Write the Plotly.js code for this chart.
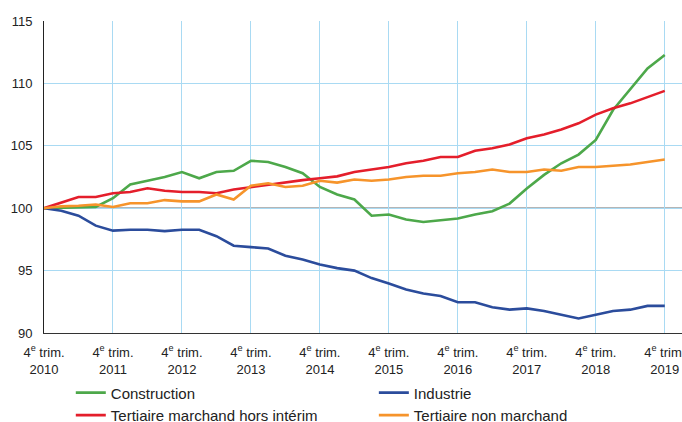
<!DOCTYPE html>
<html>
<head>
<meta charset="utf-8">
<script src="https://cdn.plot.ly/plotly-3.0.1.min.js"></script>
<style>html,body{margin:0;padding:0;background:#fff;}#chart{width:682px;height:422px;}</style>
</head>
<body>
<div id="chart"></div>
<script>
// Quarterly index, base 100 at 4th quarter 2010 (Q4 2010 .. Q4 2019)
var quarters = [];
for (var i = 0; i <= 36; i++) quarters.push(i);

var tickVals = [0, 4, 8, 12, 16, 20, 24, 28, 32, 36];
var tickYears = ["2010", "2011", "2012", "2013", "2014", "2015", "2016", "2017", "2018", "2019"];

var construction = [100, 100.05, 100.05, 100.1, 100.8, 101.9, 102.2, 102.5, 102.9, 102.4,
  102.9, 103.0, 103.8, 103.7, 103.3, 102.8, 101.7, 101.1, 100.7, 99.4,
  99.5, 99.1, 98.9, 99.05, 99.17, 99.5, 99.76, 100.37, 101.58, 102.67,
  103.6, 104.3, 105.47, 107.87, 109.5, 111.2, 112.27];

var industrie = [100, 99.8, 99.4, 98.6, 98.2, 98.27, 98.27, 98.16, 98.27, 98.27,
  97.76, 96.99, 96.88, 96.77, 96.19, 95.89, 95.49, 95.2, 95.0, 94.4,
  93.96, 93.48, 93.16, 92.97, 92.46, 92.46, 92.06, 91.87, 91.97, 91.76,
  91.46, 91.17, 91.46, 91.76, 91.87, 92.17, 92.17];

var tertMarchand = [100, 100.45, 100.9, 100.9, 101.2, 101.3, 101.6, 101.4, 101.3, 101.3,
  101.2, 101.5, 101.7, 101.85, 102.05, 102.25, 102.4, 102.55, 102.9, 103.1,
  103.3, 103.6, 103.8, 104.1, 104.1, 104.6, 104.8, 105.1, 105.6, 105.9,
  106.3, 106.8, 107.5, 108.0, 108.4, 108.9, 109.4];

var tertNonMarchand = [100, 100.15, 100.2, 100.3, 100.1, 100.4, 100.4, 100.65, 100.55, 100.55,
  101.1, 100.7, 101.8, 102.0, 101.7, 101.8, 102.2, 102.05, 102.3, 102.2,
  102.3, 102.5, 102.6, 102.6, 102.8, 102.9, 103.1, 102.9, 102.9, 103.1,
  103.0, 103.3, 103.3, 103.4, 103.5, 103.7, 103.9];

var tickText = tickYears.map(function (y) { return "4<sup>e</sup> trim.<br>" + y; });

function tr(name, y, color, legend) {
  return { x: quarters, y: y, name: name, type: "scatter", mode: "lines", legend: legend,
    line: { color: color, width: 2.6 }, hoverinfo: "skip" };
}

var data = [
  tr("Construction", construction, "#4da84a", "legend"),
  tr("Industrie", industrie, "#2b4c9c", "legend2"),
  tr("Tertiaire marchand hors intérim", tertMarchand, "#e41e2b", "legend"),
  tr("Tertiaire non marchand", tertNonMarchand, "#f6942b", "legend2")
];

var legFont = { size: 15, family: "Liberation Sans, Arial, sans-serif", color: "#222" };

var layout = {
  width: 682, height: 422,
  margin: { l: 44, r: 0, t: 21, b: 89, autoexpand: false },
  paper_bgcolor: "#fff", plot_bgcolor: "#fff",
  font: { family: "Liberation Sans, Arial, sans-serif", color: "#222", size: 13 },
  showlegend: true,
  legend: { orientation: "v", x: 0.042, xanchor: "left", yref: "container", y: 0.108, yanchor: "top",
    font: legFont, tracegroupgap: 0, traceorder: "normal", bgcolor: "rgba(0,0,0,0)" },
  legend2: { orientation: "v", x: 0.517, xanchor: "left", yref: "container", y: 0.108, yanchor: "top",
    font: legFont, tracegroupgap: 0, traceorder: "normal", bgcolor: "rgba(0,0,0,0)" },
  xaxis: { range: [0, 37], tickmode: "array", tickvals: tickVals, ticktext: tickText,
    showgrid: true, gridcolor: "#a9daf3", gridwidth: 1, zeroline: false,
    showline: true, linecolor: "#333", linewidth: 1, ticks: "", ticklabeloverflow: "allow",
    ticklabelstandoff: 7, automargin: false,
    tickfont: { family: "Liberation Sans, Arial, sans-serif", size: 13, color: "#222" },
    fixedrange: true },
  yaxis: { range: [90, 115], tickvals: [90, 95, 100, 105, 110, 115],
    showgrid: true, gridcolor: "#a9daf3", gridwidth: 1, zeroline: false, automargin: false,
    showline: true, linecolor: "#222", linewidth: 1, ticks: "", ticklabelstandoff: 8,
    tickfont: { size: 13, color: "#222" }, fixedrange: true },
  shapes: [{ type: "line", xref: "paper", x0: 0, x1: 1, yref: "y", y0: 100, y1: 100,
    line: { color: "#111", width: 1 }, layer: "below" }]
};

Plotly.newPlot("chart", data, layout, { displayModeBar: false, staticPlot: true });
</script>
</body>
</html>
